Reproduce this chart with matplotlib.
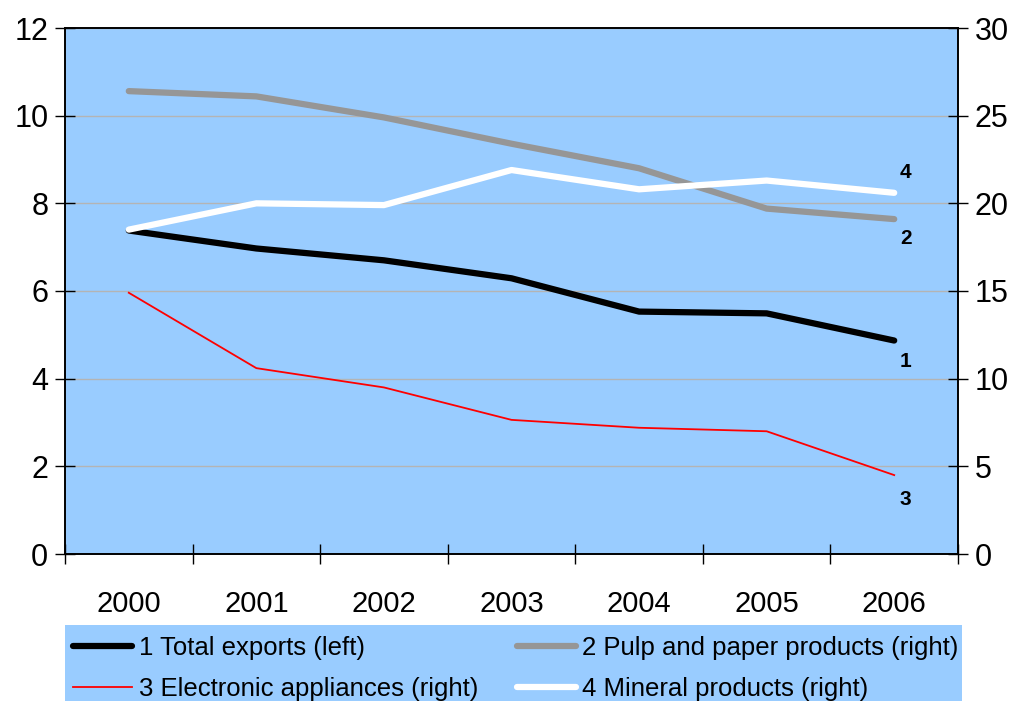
import matplotlib
matplotlib.use("Agg")
import matplotlib.pyplot as plt
from matplotlib.patches import Rectangle

plt.rcParams['font.family'] = ['Liberation Sans', 'DejaVu Sans']

years = ['2000', '2001', '2002', '2003', '2004', '2005', '2006']
total_exports = [7.38, 6.97, 6.70, 6.29, 5.53, 5.49, 4.87]
pulp_paper = [26.4, 26.1, 24.9, 23.4, 22.0, 19.7, 19.1]
electronic = [14.9, 10.6, 9.5, 7.65, 7.2, 7.0, 4.5]
mineral = [18.5, 20.0, 19.9, 21.9, 20.8, 21.3, 20.6]

labels = ['1 Total exports (left)', '2 Pulp and paper products (right)',
          '3 Electronic appliances (right)', '4 Mineral products (right)']

bg = '#99CCFF'
x = list(range(len(years)))

fig = plt.figure(figsize=(10.17, 7.01), dpi=100)
ax = fig.add_axes([65 / 1017, 1 - 554 / 701, (958 - 65) / 1017, (554 - 28) / 701])
ax.set_facecolor(bg)
ax2 = ax.twinx()

l1, = ax.plot(x, total_exports, color='black', lw=4.5, solid_capstyle='round', zorder=3)
l2, = ax2.plot(x, pulp_paper, color='#969696', lw=4.5, solid_capstyle='round')
l3, = ax2.plot(x, electronic, color='#FF0000', lw=1.3)
l4, = ax2.plot(x, mineral, color='white', lw=4.5, solid_capstyle='round')

ax.set_xlim(-0.5, len(years) - 0.5)
ax.set_ylim(0, 12)
ax2.set_ylim(0, 30)
ax.set_yticks(range(0, 13, 2))
ax2.set_yticks(range(0, 31, 5))
ax.yaxis.grid(True, color='#B4B4B4', lw=1)
ax.set_axisbelow(True)

# category boundaries as major ticks, year labels on minor ticks
ax.set_xticks([i - 0.5 for i in range(len(years) + 1)])
ax.set_xticklabels([])
ax.set_xticks(x, minor=True)
ax.set_xticklabels(years, minor=True)
ax.tick_params(axis='x', which='major', direction='inout', length=14, width=1)
ax.tick_params(axis='x', which='minor', length=0, pad=26, labelsize=21)
ax.tick_params(axis='y', direction='inout', length=14, width=1, labelsize=22, pad=5)
ax2.tick_params(axis='y', direction='inout', length=14, width=1, labelsize=22, pad=5)

for a in (ax, ax2):
    for s in a.spines.values():
        s.set_linewidth(1.2)

# end labels
last = len(years) - 1
ax2.annotate('4', (last, mineral[-1]), xytext=(4, 8), textcoords='offset points',
             fontsize=15, fontweight='bold', va='bottom')
ax2.annotate('2', (last, pulp_paper[-1]), xytext=(4, -7), textcoords='offset points',
             fontsize=15, fontweight='bold', va='top')
ax.annotate('1', (last, total_exports[-1]), xytext=(4, -8), textcoords='offset points',
            fontsize=15, fontweight='bold', va='top')
ax2.annotate('3', (last, electronic[-1]), xytext=(4, -11), textcoords='offset points',
             fontsize=15, fontweight='bold', va='top')

# legend background strip
fig.patches.append(Rectangle((65 / 1017, 0), (962 - 65) / 1017, 76 / 701,
                             transform=fig.transFigure, facecolor=bg,
                             edgecolor='none', zorder=0))
leg = fig.legend([l1, l3, l2, l4], [labels[0], labels[2], labels[1], labels[3]],
                 ncol=2, loc='upper left', bbox_to_anchor=(68 / 1017, 1 - 631 / 701),
                 fontsize=18.5, frameon=False, handlelength=2.3,
                 handletextpad=0.25, labelspacing=0.65, borderaxespad=0,
                 borderpad=0.2, columnspacing=1.5)

fig.savefig('out.png', dpi=100)
